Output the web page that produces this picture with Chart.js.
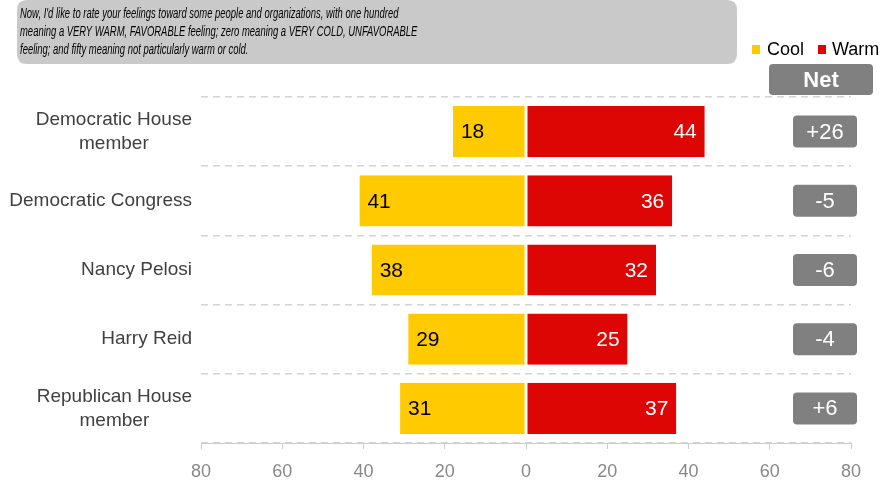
<!DOCTYPE html>
<html>
<head>
<meta charset="utf-8">
<script src="https://cdn.jsdelivr.net/npm/chart.js@4/dist/chart.umd.min.js"></script>
<style>
html,body{margin:0;padding:0;background:#fff;}
#wrap{width:882px;height:482px;position:relative;}
</style>
</head>
<body>
<div id="wrap"><canvas id="c" width="882" height="482"></canvas></div>
<script>
const categories = [["Democratic House","member"],["Democratic Congress"],["Nancy Pelosi"],["Harry Reid"],["Republican House","member"]];
const coolValues = [18, 41, 38, 29, 31];
const warmValues = [44, 36, 32, 25, 37];
const netLabels = ["+26", "-5", "-6", "-4", "+6"];
const xTicks = [-80, -60, -40, -20, 0, 20, 40, 60, 80];
const seriesNames = ["Cool", "Warm"];
const titleLines = [
  "Now, I'd like to rate your feelings toward some people and organizations, with one hundred",
  "meaning a VERY WARM, FAVORABLE feeling; zero meaning a VERY COLD, UNFAVORABLE",
  "feeling; and fifty meaning not particularly warm or cold."
];

const COOL = '#FFCA00', WARM = '#DE0505', GREY = '#808080';
const FONT = "'Liberation Sans', Arial, sans-serif";

function roundRect(ctx, x, y, w, h, r) {
  ctx.beginPath();
  ctx.moveTo(x + r, y);
  ctx.lineTo(x + w - r, y);
  ctx.quadraticCurveTo(x + w, y, x + w, y + r);
  ctx.lineTo(x + w, y + h - r);
  ctx.quadraticCurveTo(x + w, y + h, x + w - r, y + h);
  ctx.lineTo(x + r, y + h);
  ctx.quadraticCurveTo(x, y + h, x, y + h - r);
  ctx.lineTo(x, y + r);
  ctx.quadraticCurveTo(x, y, x + r, y);
  ctx.closePath();
}

const decor = {
  id: 'decor',
  afterDraw(chart) {
    const ctx = chart.ctx;
    const y = chart.scales.y;
    ctx.save();
    // title box
    ctx.fillStyle = '#C9C9C9';
    roundRect(ctx, 17, 0, 720, 64, 10);
    ctx.fill();
    ctx.fillStyle = '#000';
    ctx.font = "italic 15px " + FONT;
    ctx.textAlign = 'left';
    ctx.textBaseline = 'middle';
    titleLines.forEach((t, i) => {
      ctx.save();
      ctx.translate(20, 14 + i * 18);
      ctx.scale(0.63, 1);
      ctx.fillText(t, 0, 0);
      ctx.restore();
    });

    // legend
    ctx.font = '18px ' + FONT;
    ctx.fillStyle = COOL; ctx.fillRect(752, 45, 8, 9);
    ctx.fillStyle = '#000'; ctx.fillText(seriesNames[0], 767, 50);
    ctx.fillStyle = WARM; ctx.fillRect(818, 45, 8, 9);
    ctx.fillStyle = '#000'; ctx.fillText(seriesNames[1], 832, 50);

    // Net header
    ctx.fillStyle = GREY;
    roundRect(ctx, 769, 64, 104, 31, 4);
    ctx.fill();
    ctx.fillStyle = '#fff';
    ctx.font = 'bold 22px ' + FONT;
    ctx.textAlign = 'center';
    ctx.fillText('Net', 821, 81);

    // category labels
    ctx.fillStyle = '#404040';
    ctx.font = '19px ' + FONT;
    categories.forEach((lines, i) => {
      const cy = y.getPixelForValue(i);
      const widths = lines.map(l => ctx.measureText(l).width);
      const maxW = Math.max(...widths);
      const cx = 192 - maxW / 2;
      ctx.textAlign = 'center';
      lines.forEach((l, j) => {
        ctx.fillText(l, cx, cy + (j - (lines.length - 1) / 2) * 24);
      });
    });

    // bar value labels
    ctx.font = '21px ' + FONT;
    const m0 = chart.getDatasetMeta(0), m1 = chart.getDatasetMeta(1);
    m0.data.forEach((bar, i) => {
      ctx.fillStyle = '#000';
      ctx.textAlign = 'left';
      ctx.fillText(String(coolValues[i]), bar.x + 8, bar.y + 1);
    });
    m1.data.forEach((bar, i) => {
      ctx.fillStyle = '#fff';
      ctx.textAlign = 'right';
      ctx.fillText(String(warmValues[i]), bar.x - 8, bar.y + 1);
    });

    // net boxes
    netLabels.forEach((n, i) => {
      const cy = y.getPixelForValue(i);
      ctx.fillStyle = GREY;
      roundRect(ctx, 793, cy - 16, 64, 32, 4);
      ctx.fill();
      ctx.fillStyle = '#fff';
      ctx.font = '22px ' + FONT;
      ctx.textAlign = 'center';
      ctx.fillText(n, 825, cy + 1);
    });
    ctx.restore();
  }
};

new Chart(document.getElementById('c'), {
  type: 'bar',
  data: {
    labels: categories,
    datasets: [
      { label: seriesNames[0], data: coolValues.map(v => -v), backgroundColor: COOL,
        borderColor: '#fff', borderWidth: {left: 0, right: 1, top: 0, bottom: 0}, borderSkipped: false },
      { label: seriesNames[1], data: warmValues, backgroundColor: WARM,
        borderColor: '#fff', borderWidth: {left: 1, right: 0, top: 0, bottom: 0}, borderSkipped: false }
    ]
  },
  options: {
    indexAxis: 'y',
    responsive: false,
    animation: false,
    layout: { padding: { top: 97, right: 31, left: 0, bottom: 0 } },
    datasets: { bar: { barPercentage: 0.74, categoryPercentage: 1 } },
    plugins: { legend: { display: false }, tooltip: { enabled: false }, title: { display: false } },
    scales: {
      x: {
        stacked: true, min: -80, max: 80,
        afterBuildTicks(s) { s.ticks = xTicks.map(v => ({ value: v })); },
        afterFit(s) { s.height = 39; },
        ticks: { callback: v => String(Math.abs(v)), color: '#888', font: { size: 18, family: FONT }, padding: 12, maxRotation: 0 },
        grid: { drawOnChartArea: false, drawTicks: true, tickLength: 6, color: '#CCCCCC' },
        border: { display: true, color: '#CCCCCC', width: 1 }
      },
      y: {
        stacked: true,
        afterFit(s) { s.width = 201; },
        ticks: { display: false },
        grid: { drawTicks: false, color: '#D4D4D4', lineWidth: 1.5, offset: true },
        border: { display: false, dash: [7, 5] }
      }
    }
  },
  plugins: [decor]
});
</script>
</body>
</html>
